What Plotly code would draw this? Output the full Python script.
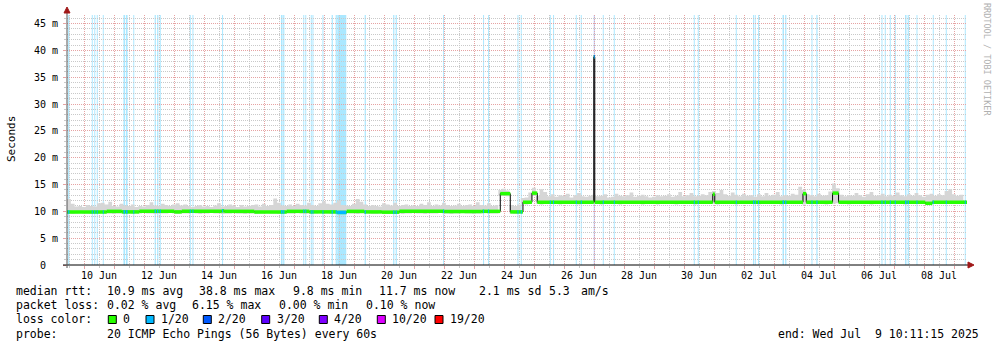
import numpy as np
import pandas as pd
import plotly.graph_objects as go

# ---------------- data ----------------
start = "2025-06-09 10:11:15"
end = "2025-07-09 10:11:15"

# median RTT (ms) as a step series: value holds from each time until the next
median_times = [
    "2025-06-09 10:11:15", "2025-06-10 18:00", "2025-06-11 06:00", "2025-06-11 20:00",
    "2025-06-13 00:00", "2025-06-13 06:00", "2025-06-14 14:00", "2025-06-14 16:00",
    "2025-06-15 16:00", "2025-06-16 18:00", "2025-06-17 12:00", "2025-06-18 10:00",
    "2025-06-18 18:00", "2025-06-19 08:00", "2025-06-19 22:00", "2025-06-20 12:00",
    "2025-06-22 00:00", "2025-06-23 06:00", "2025-06-23 20:48", "2025-06-24 04:48",
    "2025-06-24 14:57", "2025-06-24 22:09", "2025-06-25 02:24", "2025-06-26 23:36",
    "2025-06-27 00:24", "2025-06-30 22:48", "2025-07-01 00:24", "2025-07-03 22:58",
    "2025-07-04 01:36", "2025-07-04 22:38", "2025-07-05 03:26", "2025-07-08 00:48",
    "2025-07-08 06:24", "2025-07-09 10:11:15",
]
median_ms = [
    9.9, 10.0, 9.9, 10.0,
    9.9, 10.0, 10.1, 10.0,
    9.9, 10.0, 9.9, 9.8,
    10.0, 9.9, 9.85, 10.0,
    9.95, 10.0, 13.3, 9.9,
    11.7, 13.4, 11.7, 38.8,
    11.7, 13.2, 11.7, 13.3,
    11.7, 13.4, 11.7, 11.5,
    11.7, 11.7,
]

# smoke (spread of the 20 pings), sampled every 3 hours
smoke_start = "2025-06-09 10:15"
smoke_top_ms = [
    12.3, 11.4, 10.9, 11.0, 10.8, 11.2, 11.0, 10.9, 11.5, 11.6,
    11.3, 11.8, 11.0, 10.9, 11.4, 11.1, 11.0, 11.3, 10.8, 11.0,
    10.9, 11.2, 11.7, 11.1, 11.0, 11.4, 11.2, 11.0, 11.3, 11.5,
    11.1, 11.3, 11.0, 10.8, 11.0, 11.2, 10.9, 11.0, 10.8, 11.1,
    11.5, 10.9, 11.0, 11.3, 11.1, 10.8, 11.2, 10.9, 11.0, 11.2,
    11.3, 10.9, 11.4, 11.0, 11.2, 12.4, 11.6, 11.1, 11.0, 11.3,
    11.0, 11.4, 11.2, 11.1, 11.6, 11.2, 11.0, 11.5, 11.9, 11.4,
    11.3, 11.6, 12.0, 11.2, 11.1, 11.0, 11.4, 12.3, 11.8, 11.3,
    11.0, 11.2, 11.0, 10.9, 11.5, 11.3, 11.1, 11.6, 11.0, 11.2,
    11.3, 11.0, 11.1, 11.0, 11.4, 11.2, 11.7, 11.0, 11.3, 11.1,
    11.6, 11.2, 11.0, 11.1, 11.4, 11.0, 11.2, 11.3, 11.0, 11.7,
    11.2, 11.1, 11.5, 11.0, 11.2, 14.0, 14.2, 13.9, 11.2, 11.0,
    11.3, 12.5, 12.6, 13.5, 14.4, 12.9, 14.1, 13.6, 12.8, 13.2,
    12.7, 13.0, 12.9, 13.3, 12.6, 13.0, 13.4, 12.8, 12.7, 12.9,
    13.1, 12.8, 12.9, 13.2, 12.6, 12.7, 13.3, 12.9, 12.8, 13.0,
    13.5, 12.7, 12.9, 13.1, 12.8, 12.6, 12.7, 13.0, 12.8, 12.9,
    13.2, 12.7, 12.9, 13.6, 12.8, 13.0, 13.4, 12.8, 12.9, 13.2,
    13.0, 13.6, 13.8, 13.4, 14.0, 13.2, 12.9, 13.5, 13.1, 12.8,
    13.3, 12.9, 13.0, 12.7, 13.2, 12.8, 13.4, 12.9, 13.1, 13.6,
    12.8, 13.0, 12.9, 13.3, 13.1, 14.6, 14.0, 13.2, 13.0, 12.8,
    13.3, 12.9, 13.0, 13.7, 15.2, 14.3, 13.1, 12.8, 13.0, 12.9,
    13.4, 13.0, 12.7, 13.2, 13.6, 12.9, 13.0, 13.3, 12.8, 13.1,
    12.9, 13.5, 13.0, 12.8, 13.2, 12.9, 13.4, 13.0, 12.7, 13.1,
    13.3, 12.9, 13.2, 13.0, 13.8, 14.1, 13.2, 12.9, 13.1, 12.8,
]
smoke_low_ms = [
    9.6, 9.5, 9.6, 9.7, 9.6, 9.6, 9.5, 9.6, 9.6, 9.7,
    9.6, 9.6, 9.5, 9.6, 9.6, 9.7, 9.6, 9.5, 9.6, 9.6,
    9.7, 9.6, 9.6, 9.5, 9.6, 9.6, 9.6, 9.7, 9.6, 9.5,
    9.6, 9.6, 9.6, 9.7, 9.6, 9.5, 9.6, 9.6, 9.7, 9.6,
    9.6, 9.5, 9.6, 9.6, 9.7, 9.6, 9.6, 9.5, 9.6, 9.6,
    9.5, 9.6, 9.6, 9.7, 9.6, 9.6, 9.5, 9.6, 9.6, 9.6,
    9.6, 9.7, 9.6, 9.5, 9.6, 9.6, 9.6, 9.7, 9.6, 9.6,
    9.5, 9.5, 9.6, 9.6, 9.7, 9.6, 9.6, 9.5, 9.6, 9.6,
    9.6, 9.5, 9.5, 9.6, 9.6, 9.6, 9.7, 9.6, 9.6, 9.5,
    9.6, 9.6, 9.7, 9.6, 9.6, 9.5, 9.6, 9.6, 9.6, 9.7,
    9.6, 9.6, 9.5, 9.6, 9.6, 9.7, 9.6, 9.6, 9.5, 9.6,
    9.6, 9.7, 9.6, 9.6, 9.6, 12.9, 12.9, 12.8, 9.6, 9.5,
    9.6, 11.4, 11.3, 11.4, 12.9, 11.4, 11.3, 11.4, 11.5, 11.4,
    11.4, 11.3, 11.4, 11.4, 11.5, 11.4, 11.3, 11.4, 11.4, 11.5,
    11.4, 11.4, 11.3, 11.4, 11.4, 11.5, 11.4, 11.3, 11.4, 11.4,
    11.4, 11.5, 11.4, 11.3, 11.4, 11.4, 11.4, 11.3, 11.5, 11.4,
    11.4, 11.4, 11.3, 11.4, 11.5, 11.4, 11.4, 11.3, 11.4, 11.4,
    11.5, 11.4, 11.4, 11.3, 11.4, 11.4, 11.5, 11.4, 11.3, 11.4,
    11.4, 11.4, 11.5, 11.4, 11.3, 11.4, 11.4, 11.5, 11.4, 11.4,
    11.3, 11.4, 11.4, 11.5, 11.4, 11.4, 11.3, 11.4, 11.4, 11.4,
    11.5, 11.4, 11.3, 11.4, 11.4, 11.5, 11.4, 11.4, 11.3, 11.4,
    11.4, 11.4, 11.5, 11.4, 11.3, 11.4, 11.4, 11.5, 11.4, 11.4,
    11.4, 11.5, 11.4, 11.3, 11.4, 11.4, 11.4, 11.5, 11.4, 11.3,
    11.4, 11.4, 11.5, 11.4, 11.4, 11.4, 11.5, 11.4, 11.4, 11.4,
]

# packet-loss events: centre time, duration (minutes), loss level (x/20)
loss_times = [
    "2025-06-09 11:36", "2025-06-10 06:24", "2025-06-10 08:24", "2025-06-10 10:24",
    "2025-06-10 15:12", "2025-06-11 08:00", "2025-06-11 10:00", "2025-06-11 15:36",
    "2025-06-12 08:48", "2025-06-12 10:48", "2025-06-12 12:48", "2025-06-13 12:48",
    "2025-06-13 14:57", "2025-06-14 14:38", "2025-06-16 14:00", "2025-06-16 15:36",
    "2025-06-17 07:36", "2025-06-17 09:12", "2025-06-17 13:36", "2025-06-17 14:57",
    "2025-06-17 22:57", "2025-06-18 06:24", "2025-06-18 09:36", "2025-06-18 14:00",
    "2025-06-19 08:48", "2025-06-20 07:36", "2025-06-20 09:36", "2025-06-21 23:27",
    "2025-06-23 07:26", "2025-06-23 11:27", "2025-06-24 10:58", "2025-06-24 13:36",
    "2025-06-25 12:48", "2025-06-25 15:26", "2025-06-26 09:36", "2025-06-26 13:36",
    "2025-06-27 00:00", "2025-06-27 07:12", "2025-06-27 16:00", "2025-06-30 08:00",
    "2025-06-30 11:12", "2025-07-01 17:36", "2025-07-02 07:26", "2025-07-02 08:48",
    "2025-07-02 11:27", "2025-07-03 07:12", "2025-07-03 09:12", "2025-07-04 06:10",
    "2025-07-04 10:09", "2025-07-06 14:10", "2025-07-06 16:48", "2025-07-06 20:48",
    "2025-07-07 00:48", "2025-07-07 09:12", "2025-07-07 11:12", "2025-07-07 18:10",
    "2025-07-08 07:12", "2025-07-08 17:36", "2025-07-09 08:48",
]
loss_minutes = [
    60, 48, 48, 48, 48, 80, 80, 48, 60, 60, 48, 48,
    48, 48, 80, 60, 48, 48, 48, 48, 48, 60, 60, 432,
    60, 60, 60, 48, 48, 48, 48, 48, 48, 48, 48, 48,
    48, 48, 48, 48, 48, 48, 48, 48, 48, 72, 60, 48,
    60, 48, 48, 48, 48, 72, 60, 48, 48, 48, 48,
]
loss_level = [1] * 36 + [2] + [1] * 22

y_tick_vals = [0, 5, 10, 15, 20, 25, 30, 35, 40, 45]
y_tick_text = ["0\u00a0\u00a0", "5 m", "10 m", "15 m", "20 m", "25 m", "30 m", "35 m", "40 m", "45 m"]
x_label_days = ["2025-06-10", "2025-06-12", "2025-06-14", "2025-06-16", "2025-06-18",
                "2025-06-20", "2025-06-22", "2025-06-24", "2025-06-26", "2025-06-28",
                "2025-06-30", "2025-07-02", "2025-07-04", "2025-07-06", "2025-07-08"]
x_label_text = ["10 Jun", "12 Jun", "14 Jun", "16 Jun", "18 Jun", "20 Jun", "22 Jun", "24 Jun",
                "26 Jun", "28 Jun", "30 Jun", "02 Jul", "04 Jul", "06 Jul", "08 Jul"]

loss_color_names = ["0", "1/20", "2/20", "3/20", "4/20", "10/20", "19/20"]
loss_color_hex = ["#26ff00", "#00b8ff", "#0059ff", "#5e00ff", "#7e00ff", "#dd00ff", "#ff0000"]
loss_stripe_rgba = {1: "rgba(0,184,255,0.33)", 2: "rgba(0,89,255,0.33)"}
loss_line_hex = {1: "#00b8ff", 2: "#0059ff"}

rtt_stats = ["median rtt:", "10.9 ms avg", "38.8 ms max", "9.8 ms min", "11.7 ms now",
             "2.1 ms sd", "5.3", "am/s"]
loss_stats = ["packet loss:", "0.02 % avg", "6.15 % max", "0.00 % min", "0.10 % now"]
probe_text = ["probe:", "20 ICMP Echo Pings (56 Bytes) every 60s"]
end_text = "end: Wed Jul\u00a0\u00a09 10:11:15 2025"

# ---------------- figure ----------------
MONO = "DejaVu Sans Mono"
MAJ = "#e6a3a3"
MIN = "#c9c9c9"
L, R, T, B = 67, 30, 15, 82
W, H = 997, 347
PW, PH = W - L - R, H - T - B


def px(x):
    return (x - L) / PW


def py(y):
    return (H - B - y) / PH


def to_dt(seq):
    return pd.to_datetime(seq, format="mixed")


fig = go.Figure()

# smoke
n = min(len(smoke_top_ms), len(smoke_low_ms))
st = pd.date_range(pd.Timestamp(smoke_start), periods=n, freq="3h")
fig.add_trace(go.Scatter(x=st, y=smoke_low_ms[:n], mode="lines", line=dict(width=0, shape="hv"),
                         hoverinfo="skip"))
fig.add_trace(go.Scatter(x=st, y=smoke_top_ms[:n], mode="lines", line=dict(width=0, shape="hv"),
                         fill="tonexty", fillcolor="#d6d6d6", hoverinfo="skip"))

# thin black median line
mt = to_dt(median_times)
fig.add_trace(go.Scatter(x=mt, y=median_ms, mode="lines",
                         line=dict(color="#000000", width=1, shape="hv"), hoverinfo="skip"))

# thick loss-coloured median bands (horizontal only)
gx, gy = [], []
for i in range(len(mt) - 1):
    gx += [mt[i], mt[i + 1], None]
    gy += [median_ms[i], median_ms[i], None]
fig.add_trace(go.Scatter(x=gx, y=gy, mode="lines", line=dict(color=loss_color_hex[0], width=3.5),
                         hoverinfo="skip"))

lt = to_dt(loss_times)
mt_vals = mt.values
for lev in sorted(set(loss_level)):
    sx, sy = [], []
    for t, m, lv in zip(lt, loss_minutes, loss_level):
        if lv != lev:
            continue
        idx = max(0, int(np.searchsorted(mt_vals, t.to_datetime64(), side="right")) - 1)
        half = pd.Timedelta(minutes=m / 2)
        sx += [t - half, t + half, None]
        sy += [median_ms[idx], median_ms[idx], None]
    fig.add_trace(go.Scatter(x=sx, y=sy, mode="lines", line=dict(color=loss_line_hex[lev], width=3.5),
                             hoverinfo="skip"))

# loss stripes (full height)
for t, m, lv in zip(lt, loss_minutes, loss_level):
    half = pd.Timedelta(minutes=m / 2)
    fig.add_shape(type="rect", xref="x", yref="paper", x0=t - half, x1=t + half, y0=0, y1=1,
                  fillcolor=loss_stripe_rgba[lv], line=dict(width=0), layer="below")

fig.update_layout(
    width=W, height=H, margin=dict(l=L, r=R, t=T, b=B, pad=0),
    paper_bgcolor="white", plot_bgcolor="white", showlegend=False,
    font=dict(family=MONO, size=11, color="black"),
)
fig.update_xaxes(
    type="date", range=[start, end], showticklabels=False,
    tick0="2025-06-10", dtick=86400000, showgrid=True, gridcolor=MAJ, griddash="1px,1px", gridwidth=1,
    ticks="outside", ticklen=3, tickcolor=MAJ,
    minor=dict(dtick=43200000, showgrid=True, gridcolor=MIN, griddash="1px,1px",
               ticks="outside", ticklen=2, tickcolor=MIN),
    zeroline=False, showline=False,
)
fig.update_yaxes(
    range=[0, 46.6], tickmode="array", tickvals=y_tick_vals, ticktext=y_tick_text,
    tickfont=dict(family=MONO, size=10, color="black"),
    showgrid=True, gridcolor=MAJ, griddash="1px,1px", gridwidth=1,
    ticks="outside", ticklen=3, tickcolor=MAJ, ticklabelstandoff=3,
    minor=dict(tickmode="linear", tick0=0, dtick=1, showgrid=True, gridcolor=MIN, griddash="1px,1px",
               ticks="outside", ticklen=2, tickcolor=MIN),
    zeroline=False, showline=False,
)

# axis lines and arrows
fig.add_shape(type="line", xref="paper", yref="paper", x0=px(63), x1=px(970), y0=py(265), y1=py(265),
              line=dict(color="black", width=1))
fig.add_shape(type="line", xref="paper", yref="paper", x0=px(67), x1=px(67), y0=py(268), y1=py(11),
              line=dict(color="#555555", width=1))
fig.add_shape(type="path", xref="paper", yref="paper",
              path=f"M {px(974)},{py(265)} L {px(968)},{py(262)} L {px(968)},{py(268)} Z",
              fillcolor="#a01818", line=dict(color="#a01818", width=1))
fig.add_shape(type="path", xref="paper", yref="paper",
              path=f"M {px(67)},{py(7)} L {px(64)},{py(13)} L {px(70)},{py(13)} Z",
              fillcolor="#a01818", line=dict(color="#a01818", width=1))

# x labels centred on the day
for d, txt in zip(x_label_days, x_label_text):
    fig.add_annotation(x=pd.Timestamp(d) + pd.Timedelta(hours=12), y=py(275.5), xref="x", yref="paper",
                       text=txt, showarrow=False, xanchor="center", yanchor="middle",
                       font=dict(family=MONO, size=10, color="black"))


def ann(x, y, text, size=11.5, color="black", **kw):
    fig.add_annotation(x=px(x - 2), y=py(y), xref="paper", yref="paper", text=text, showarrow=False,
                       xanchor="left", yanchor="middle", font=dict(family=MONO, size=size, color=color), **kw)


# vertical axis title and watermark
fig.add_annotation(x=px(11), y=py(139), xref="paper", yref="paper", text="Seconds", showarrow=False,
                   textangle=-90, xanchor="center", yanchor="middle",
                   font=dict(family=MONO, size=11, color="black"))
fig.add_annotation(x=px(987), y=py(60), xref="paper", yref="paper", text="RRDTOOL / TOBI OETIKER",
                   showarrow=False, textangle=90, xanchor="center", yanchor="middle",
                   font=dict(family=MONO, size=8.5, color="#b0b0b0"))

# legend rows
row1_x = [16, 106.5, 199, 292.5, 378.5, 479, 549, 581]
for x, t in zip(row1_x, rtt_stats):
    ann(x, 290.5, t)
row2_x = [16, 106.5, 192, 278.5, 365.5]
for x, t in zip(row2_x, loss_stats):
    ann(x, 305, t)
ann(16, 319.3, "loss color:")
box_x = [108.3, 146, 203.3, 261.7, 319.3, 377.3, 435]
for bx, c, name in zip(box_x, loss_color_hex, loss_color_names):
    fig.add_shape(type="rect", xref="paper", yref="paper", x0=px(bx), x1=px(bx + 8),
                  y0=py(323.5), y1=py(315.5), fillcolor=c, line=dict(color="black", width=1))
    ann(bx + 15, 319.3, name)
ann(16, 333.5, probe_text[0])
ann(106.5, 333.5, probe_text[1])
ann(777.5, 333.5, end_text)

fig.write_html("out.html")
